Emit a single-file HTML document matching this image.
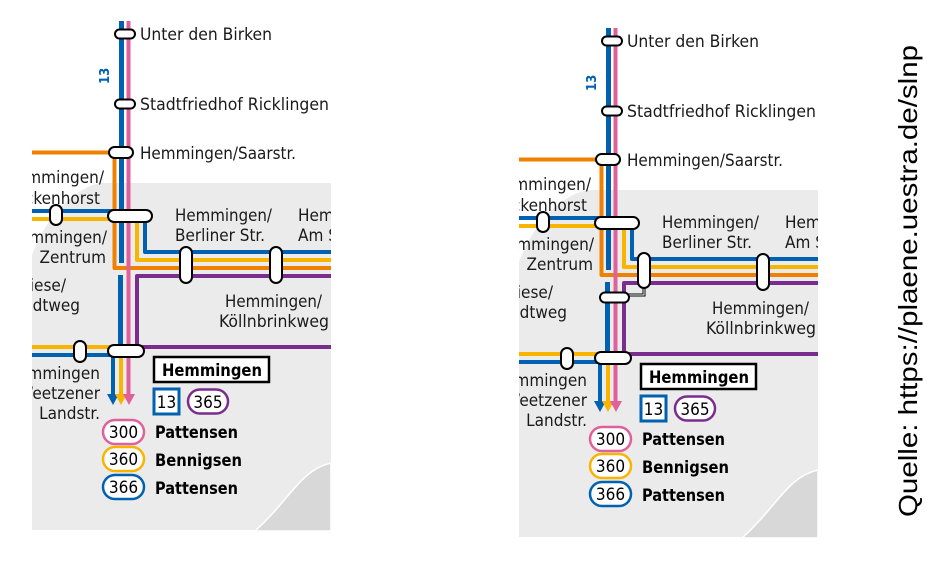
<!DOCTYPE html>
<html><head><meta charset="utf-8"><style>
html,body{margin:0;padding:0;background:#fff;}
svg{display:block}
text{font-family:"DejaVu Sans Condensed","Liberation Sans Narrow","Liberation Sans",sans-serif;font-size:17px;fill:#1a1a1a}
.b{font-weight:bold;fill:#000}
</style></head><body>
<svg width="947" height="565" viewBox="0 0 947 565" xmlns="http://www.w3.org/2000/svg">
<defs>
<clipPath id="c1"><rect x="32" y="0" width="299" height="531"/></clipPath>
</defs>

<!-- LEFT MAP -->
<g clip-path="url(#c1)">
<path d="M32,255 C45,220 70,190 100,183 L331,183 V530 H32 Z" fill="#ebebeb"/>
<path d="M255,531 C290,500 300,470 331,463 V531 Z" fill="#d8d8d8" stroke="#fff" stroke-width="1.5"/>
<g fill="none" stroke-linejoin="round">
<path d="M20,152.5 H114.5 V268 H340" stroke="#f08000" stroke-width="4"/>
<path d="M121.5,21 V263 M120.5,275 V345" stroke="#0061b0" stroke-width="5"/>
<path d="M20,211 H145 V252 H340" stroke="#0061b0" stroke-width="4"/>
<path d="M20,219 H137 V260 H340" stroke="#f7b500" stroke-width="4"/>
<path d="M340,276 H137 V347 H340" stroke="#7b2d8e" stroke-width="4"/>
<path d="M128.5,21 V397" stroke="#e0609b" stroke-width="4"/>
<path d="M20,347 H121 V397" stroke="#f7b500" stroke-width="4"/>
<path d="M20,355 H113 V397" stroke="#0061b0" stroke-width="4"/>
</g>
<path d="M107,394 H119 L113,405 Z" fill="#0061b0"/>
<path d="M115,394 H127 L121,405 Z" fill="#f7b500"/>
<path d="M123,394 H135 L129,405 Z" fill="#e0609b"/>
<g fill="#fff" stroke="#000" stroke-width="2">
<rect x="115" y="29.5" width="20" height="9" rx="4.5"/>
<rect x="115" y="99.5" width="20" height="9" rx="4.5"/>
<rect x="109" y="147" width="24" height="11" rx="5.5"/>
<rect x="108" y="210" width="44" height="12" rx="6"/>
<rect x="50" y="205" width="12" height="20" rx="6"/>
<rect x="180" y="247" width="12" height="36" rx="6"/>
<rect x="270" y="247" width="12" height="36" rx="6"/>
<rect x="74" y="341" width="12" height="21" rx="6"/>
<rect x="108" y="345" width="36" height="12" rx="6"/>
</g>
<text x="140" y="40" textLength="132" lengthAdjust="spacingAndGlyphs">Unter den Birken</text>
<text x="140" y="110" textLength="189" lengthAdjust="spacingAndGlyphs">Stadtfriedhof Ricklingen</text>
<text x="140" y="159" textLength="156" lengthAdjust="spacingAndGlyphs">Hemmingen/Saarstr.</text>
<text x="104" y="183" text-anchor="end">Hemmingen/</text>
<text x="100" y="204" text-anchor="end">Eickenhorst</text>
<text x="107" y="243" text-anchor="end">Hemmingen/</text>
<text x="106" y="263" text-anchor="end">Zentrum</text>
<text x="66" y="291" text-anchor="end">Wiese/</text>
<text x="80" y="311" text-anchor="end">Feldtweg</text>
<text x="100" y="379" text-anchor="end">Hemmingen</text>
<text x="100" y="399" text-anchor="end">Weetzener</text>
<text x="100" y="419" text-anchor="end">Landstr.</text>
<text x="175" y="221" textLength="97" lengthAdjust="spacingAndGlyphs">Hemmingen/</text>
<text x="175" y="241" textLength="90" lengthAdjust="spacingAndGlyphs">Berliner Str.</text>
<text x="298" y="221">Hemmingen/</text>
<text x="298" y="241">Am Sport</text>
<text x="225" y="307" textLength="97" lengthAdjust="spacingAndGlyphs">Hemmingen/</text>
<text x="219" y="327" textLength="110" lengthAdjust="spacingAndGlyphs">Köllnbrinkweg</text>
<text transform="translate(109,84) rotate(-90)" style="font-size:13px;font-weight:bold;fill:#0061b0">13</text>
<rect x="154" y="357" width="115" height="25" fill="#fff" stroke="#000" stroke-width="2.5"/>
<text class="b" x="162" y="376" textLength="100" lengthAdjust="spacingAndGlyphs">Hemmingen</text>
<rect x="154" y="389" width="25" height="25" fill="#fff" stroke="#0061b0" stroke-width="3"/>
<text x="166.5" y="408" text-anchor="middle" style="font-size:17px;fill:#000">13</text>
<rect x="188" y="389.5" width="40" height="24" rx="12" fill="#fff" stroke="#7b2d8e" stroke-width="2.5"/>
<text x="208" y="408" text-anchor="middle" style="fill:#000">365</text>
<rect x="103" y="420" width="41" height="24" rx="12" fill="#fff" stroke="#e0609b" stroke-width="2.5"/>
<text x="123.5" y="438" text-anchor="middle" style="fill:#000">300</text>
<rect x="103" y="447" width="41" height="24" rx="12" fill="#fff" stroke="#f7b500" stroke-width="2.5"/>
<text x="123.5" y="465" text-anchor="middle" style="fill:#000">360</text>
<rect x="103" y="475" width="41" height="24" rx="12" fill="#fff" stroke="#0061b0" stroke-width="2.5"/>
<text x="123.5" y="493" text-anchor="middle" style="fill:#000">366</text>
<text class="b" x="155" y="438" textLength="83" lengthAdjust="spacingAndGlyphs">Pattensen</text>
<text class="b" x="155" y="466" textLength="87" lengthAdjust="spacingAndGlyphs">Bennigsen</text>
<text class="b" x="155" y="494" textLength="83" lengthAdjust="spacingAndGlyphs">Pattensen</text>
</g>

<!-- RIGHT MAP -->
<g transform="translate(487,7)">
<g clip-path="url(#c1)">
<path d="M32,255 C45,220 70,190 100,183 L331,183 V530 H32 Z" fill="#ebebeb"/>
<path d="M255,531 C290,500 300,470 331,463 V531 Z" fill="#d8d8d8" stroke="#fff" stroke-width="1.5"/>
<g fill="none" stroke-linejoin="round">
<path d="M20,152.5 H114.5 V268 H340" stroke="#f08000" stroke-width="4"/>
<path d="M121.5,21 V263 M120.5,275 V345" stroke="#0061b0" stroke-width="5"/>
<path d="M20,211 H145 V252 H340" stroke="#0061b0" stroke-width="4"/>
<path d="M20,219 H137 V260 H340" stroke="#f7b500" stroke-width="4"/>
<path d="M340,276 H137 V347 H340" stroke="#7b2d8e" stroke-width="4"/>
<path d="M128.5,21 V397" stroke="#e0609b" stroke-width="4"/>
<path d="M20,347 H121 V397" stroke="#f7b500" stroke-width="4"/>
<path d="M20,355 H113 V397" stroke="#0061b0" stroke-width="4"/>
</g>
<path d="M107,394 H119 L113,405 Z" fill="#0061b0"/>
<path d="M115,394 H127 L121,405 Z" fill="#f7b500"/>
<path d="M123,394 H135 L129,405 Z" fill="#e0609b"/>
<path d="M157,280 V288 H139" fill="none" stroke="#000" stroke-width="3"/>
<path d="M157,280 V288 H139" fill="none" stroke="#fff" stroke-width="1"/>
<g fill="#fff" stroke="#000" stroke-width="2">
<rect x="115" y="29.5" width="20" height="9" rx="4.5"/>
<rect x="115" y="99.5" width="20" height="9" rx="4.5"/>
<rect x="109" y="147" width="24" height="11" rx="5.5"/>
<rect x="108" y="210" width="44" height="12" rx="6"/>
<rect x="50" y="205" width="12" height="20" rx="6"/>
<rect x="151" y="246" width="12" height="35" rx="6"/>
<rect x="113" y="285.5" width="29" height="10" rx="5"/>
<rect x="270" y="247" width="12" height="36" rx="6"/>
<rect x="74" y="341" width="12" height="21" rx="6"/>
<rect x="108" y="345" width="36" height="12" rx="6"/>
</g>
<text x="140" y="40" textLength="132" lengthAdjust="spacingAndGlyphs">Unter den Birken</text>
<text x="140" y="110" textLength="189" lengthAdjust="spacingAndGlyphs">Stadtfriedhof Ricklingen</text>
<text x="140" y="159" textLength="156" lengthAdjust="spacingAndGlyphs">Hemmingen/Saarstr.</text>
<text x="104" y="183" text-anchor="end">Hemmingen/</text>
<text x="100" y="204" text-anchor="end">Eickenhorst</text>
<text x="107" y="243" text-anchor="end">Hemmingen/</text>
<text x="106" y="263" text-anchor="end">Zentrum</text>
<text x="66" y="291" text-anchor="end">Wiese/</text>
<text x="80" y="311" text-anchor="end">Feldtweg</text>
<text x="100" y="379" text-anchor="end">Hemmingen</text>
<text x="100" y="399" text-anchor="end">Weetzener</text>
<text x="100" y="419" text-anchor="end">Landstr.</text>
<text x="175" y="221" textLength="97" lengthAdjust="spacingAndGlyphs">Hemmingen/</text>
<text x="175" y="241" textLength="90" lengthAdjust="spacingAndGlyphs">Berliner Str.</text>
<text x="298" y="221">Hemmingen/</text>
<text x="298" y="241">Am Sport</text>
<text x="225" y="307" textLength="97" lengthAdjust="spacingAndGlyphs">Hemmingen/</text>
<text x="219" y="327" textLength="110" lengthAdjust="spacingAndGlyphs">Köllnbrinkweg</text>
<text transform="translate(109,84) rotate(-90)" style="font-size:13px;font-weight:bold;fill:#0061b0">13</text>
<rect x="154" y="357" width="115" height="25" fill="#fff" stroke="#000" stroke-width="2.5"/>
<text class="b" x="162" y="376" textLength="100" lengthAdjust="spacingAndGlyphs">Hemmingen</text>
<rect x="154" y="389" width="25" height="25" fill="#fff" stroke="#0061b0" stroke-width="3"/>
<text x="166.5" y="408" text-anchor="middle" style="font-size:17px;fill:#000">13</text>
<rect x="188" y="389.5" width="40" height="24" rx="12" fill="#fff" stroke="#7b2d8e" stroke-width="2.5"/>
<text x="208" y="408" text-anchor="middle" style="fill:#000">365</text>
<rect x="103" y="420" width="41" height="24" rx="12" fill="#fff" stroke="#e0609b" stroke-width="2.5"/>
<text x="123.5" y="438" text-anchor="middle" style="fill:#000">300</text>
<rect x="103" y="447" width="41" height="24" rx="12" fill="#fff" stroke="#f7b500" stroke-width="2.5"/>
<text x="123.5" y="465" text-anchor="middle" style="fill:#000">360</text>
<rect x="103" y="475" width="41" height="24" rx="12" fill="#fff" stroke="#0061b0" stroke-width="2.5"/>
<text x="123.5" y="493" text-anchor="middle" style="fill:#000">366</text>
<text class="b" x="155" y="438" textLength="83" lengthAdjust="spacingAndGlyphs">Pattensen</text>
<text class="b" x="155" y="466" textLength="87" lengthAdjust="spacingAndGlyphs">Bennigsen</text>
<text class="b" x="155" y="494" textLength="83" lengthAdjust="spacingAndGlyphs">Pattensen</text>
</g>
</g>

<text transform="translate(917,517) rotate(-90)" textLength="472" lengthAdjust="spacingAndGlyphs" style="font-family:'Liberation Sans',sans-serif;font-size:26px;fill:#000">Quelle: https://plaene.uestra.de/slnp</text>
</svg>
</body></html>
